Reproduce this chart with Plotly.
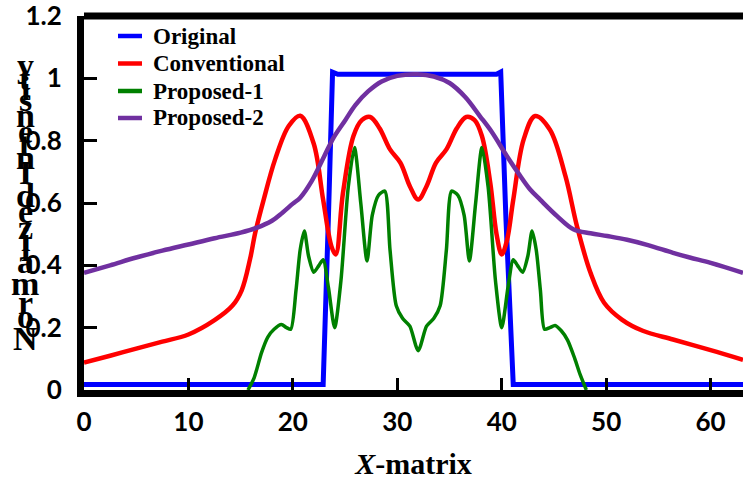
import plotly.graph_objects as go

# ---------------- data ----------------
orig_x = [0, 22.9, 23.4, 23.8, 24.3, 39.5, 39.9, 40.4, 41.1, 63.1]
orig_y = [0.018, 0.018, 0.55, 1.02, 1.013, 1.013, 1.02, 0.55, 0.018, 0.018]

conv_x = [0, 2.5, 5, 7.5, 10, 12.5, 14.2, 15.1, 15.9, 16.4, 17.2, 18.3, 19.6, 20.7,
          22.0, 22.9, 23.7, 24.1, 24.8, 25.8, 26.6, 27.4, 28.3, 29.3, 30.3, 31.2, 32.0,
          32.8, 33.7, 34.7, 35.7, 36.6, 37.4, 38.1, 38.9, 39.5, 40.0, 40.5, 41.1, 42.1,
          43.2, 44.6, 46.1, 47.2, 48.5, 49.8, 51.5, 53.5, 56.4, 60.0, 63.1]
conv_y = [0.088, 0.11, 0.133, 0.155, 0.178, 0.224, 0.27, 0.32, 0.42, 0.505, 0.61, 0.74,
          0.847, 0.88, 0.79, 0.61, 0.46, 0.435, 0.633, 0.815, 0.866, 0.876, 0.84, 0.772,
          0.729, 0.654, 0.611, 0.654, 0.729, 0.772, 0.84, 0.876, 0.866, 0.815, 0.665,
          0.5, 0.435, 0.48, 0.61, 0.804, 0.879, 0.836, 0.686, 0.526, 0.376, 0.28, 0.226,
          0.19, 0.162, 0.128, 0.097]

prop1_x = [15.7, 16.3, 17.0, 17.6, 18.2, 18.9, 19.4, 19.8, 20.3, 20.7, 21.1, 21.5, 22.0,
           22.5, 22.9, 23.4, 24.0, 24.6, 25.3, 25.9, 26.5, 27.1, 27.6, 28.2, 28.8, 29.3,
           29.9, 30.5, 31.2, 32.0, 32.8, 33.5, 34.1, 34.7, 35.2, 35.8, 36.4, 36.9, 37.5,
           38.1, 38.7, 39.4, 40.0, 40.6, 41.1, 41.5, 42.0, 42.5, 42.9, 43.3, 43.7, 44.1,
           44.6, 45.1, 45.7, 46.3, 47.0, 47.5, 48.1]
prop1_y = [0.0, 0.04, 0.12, 0.17, 0.195, 0.21, 0.2, 0.195, 0.32, 0.45, 0.51, 0.43, 0.378,
           0.4, 0.418, 0.33, 0.2, 0.35, 0.65, 0.778, 0.6, 0.414, 0.56, 0.625, 0.638, 0.45,
           0.27, 0.23, 0.205, 0.126, 0.205, 0.23, 0.27, 0.45, 0.638, 0.625, 0.56, 0.414,
           0.6, 0.778, 0.65, 0.35, 0.2, 0.33, 0.418, 0.4, 0.378, 0.43, 0.51, 0.45, 0.32,
           0.195, 0.2, 0.207, 0.19, 0.16, 0.1, 0.05, 0.0]

prop2_x = [0, 2.5, 5, 7.5, 10, 12.5, 15, 16.5, 18, 19, 20, 20.7, 21.8, 23, 23.9, 25, 26,
           27.2, 28.5, 30, 31.9, 33.5, 35, 36.5, 37.9, 39, 40.5, 41.6, 42.7, 43.7, 45.3,
           46.9, 48.5, 50.1, 52, 54, 56.4, 58, 60, 63.1]
prop2_y = [0.376, 0.40, 0.425, 0.447, 0.467, 0.487, 0.505, 0.52, 0.543, 0.569, 0.598,
           0.617, 0.67, 0.75, 0.81, 0.865, 0.915, 0.958, 0.99, 1.008, 1.013, 1.006, 0.985,
           0.94, 0.879, 0.83, 0.75, 0.695, 0.644, 0.61, 0.558, 0.515, 0.503, 0.494, 0.482,
           0.465, 0.44, 0.425, 0.408, 0.376]

series_names = ["Original", "Conventional", "Proposed-1", "Proposed-2"]
series_colors = ["#0000FF", "#FF0000", "#008000", "#7030A0"]

x_ticks = [0, 10, 20, 30, 40, 50, 60]
y_ticks = [0, 0.2, 0.4, 0.6, 0.8, 1, 1.2]
x_title = "<i>X</i>-matrix"
y_title = "Normalized Intensity"

# ---------------- figure ----------------
W, H = 743, 482
ML, MR, MT, MB = 84, 0, 16, 92
PW, PH = W - ML - MR, H - MT - MB


def px_to_paper(xp, yp):
    return (xp - ML) / PW, (H - MB - yp) / PH


fig = go.Figure()
data = [(orig_x, orig_y, 5, "linear", 0),
        (conv_x, conv_y, 4.5, "spline", 1.0),
        (prop1_x, prop1_y, 3.5, "spline", 0.7),
        (prop2_x, prop2_y, 4.5, "spline", 1.0)]
for (xs, ys, lw, shp, sm), nm, col in zip(data, series_names, series_colors):
    line = dict(color=col, width=lw, shape=shp)
    if shp == "spline":
        line["smoothing"] = sm
    fig.add_trace(go.Scatter(x=xs, y=ys, name=nm, mode="lines", showlegend=False,
                             line=line))

tick_font = dict(family="Lato", size=26, color="black", weight="bold")
fig.update_layout(
    width=W, height=H,
    margin=dict(l=ML, r=MR, t=MT, b=MB),
    paper_bgcolor="white", plot_bgcolor="white",
    showlegend=False,
    xaxis=dict(range=[0, 63.1], tickvals=x_ticks, ticks="inside", ticklen=12,
               tickwidth=2.5, tickcolor="black", showline=True, linewidth=7,
               linecolor="black", showgrid=False, zeroline=False, tickfont=tick_font,
               ticklabelstandoff=3, automargin=False, ticklabeloverflow="allow",
               title=dict(text=x_title, standoff=19,
                          font=dict(family="Liberation Serif", size=30, color="black",
                                    weight="bold"))),
    yaxis=dict(range=[0, 1.2], tickvals=y_ticks, ticks="inside", ticklen=13,
               tickwidth=2.5, tickcolor="black", showline=True, linewidth=7,
               linecolor="black", showgrid=False, zeroline=False, tickfont=tick_font,
               ticklabelstandoff=10, automargin=False, ticklabeloverflow="allow"),
)

# top border (right border is outside the picture in the reference)
fig.add_shape(type="line", xref="paper", yref="paper", x0=0, x1=1, y0=1, y1=1,
              line=dict(color="black", width=7), layer="above")

# legend drawn by hand (compact rows as in the reference)
leg_rows = [36, 63.5, 91, 118]
for nm, col, yp in zip(series_names, series_colors, leg_rows):
    x0, y0 = px_to_paper(118, yp)
    x1, _ = px_to_paper(142, yp)
    fig.add_shape(type="line", xref="paper", yref="paper", x0=x0, x1=x1, y0=y0, y1=y0,
                  line=dict(color=col, width=4.5), layer="above")
    tx, ty = px_to_paper(151, yp)
    fig.add_annotation(x=tx, y=ty, xref="paper", yref="paper", text=nm, showarrow=False,
                       xanchor="left", yanchor="middle",
                       font=dict(family="Liberation Serif", size=23, color="black",
                                 weight="bold"))

# stacked vertical y-axis title: letters upright, spaced by glyph advance widths
adv = {"N": .722, "o": .5, "r": .333, "m": .778, "a": .444, "l": .278, "i": .278,
       "z": .444, "e": .444, "d": .5, " ": .25, "I": .333, "n": .5, "t": .278,
       "s": .389, "y": .5}
em = 34.7
y_first = 338  # pixel centre of the first letter (N)
cum = 0.0
first_half = adv[y_title[0]] / 2
for ch in y_title:
    w = adv.get(ch, .5)
    centre = cum + w / 2 - first_half
    cum += w
    if ch == " ":
        continue
    ax, ay = px_to_paper(25, y_first - centre * em)
    fig.add_annotation(x=ax, y=ay, xref="paper", yref="paper", text=ch,
                       showarrow=False, xanchor="center", yanchor="middle",
                       font=dict(family="Liberation Serif", size=34, color="black",
                                 weight="bold"))

fig.write_html("out.html", config={"displayModeBar": False},
               post_script="document.body.style.margin='0';")
